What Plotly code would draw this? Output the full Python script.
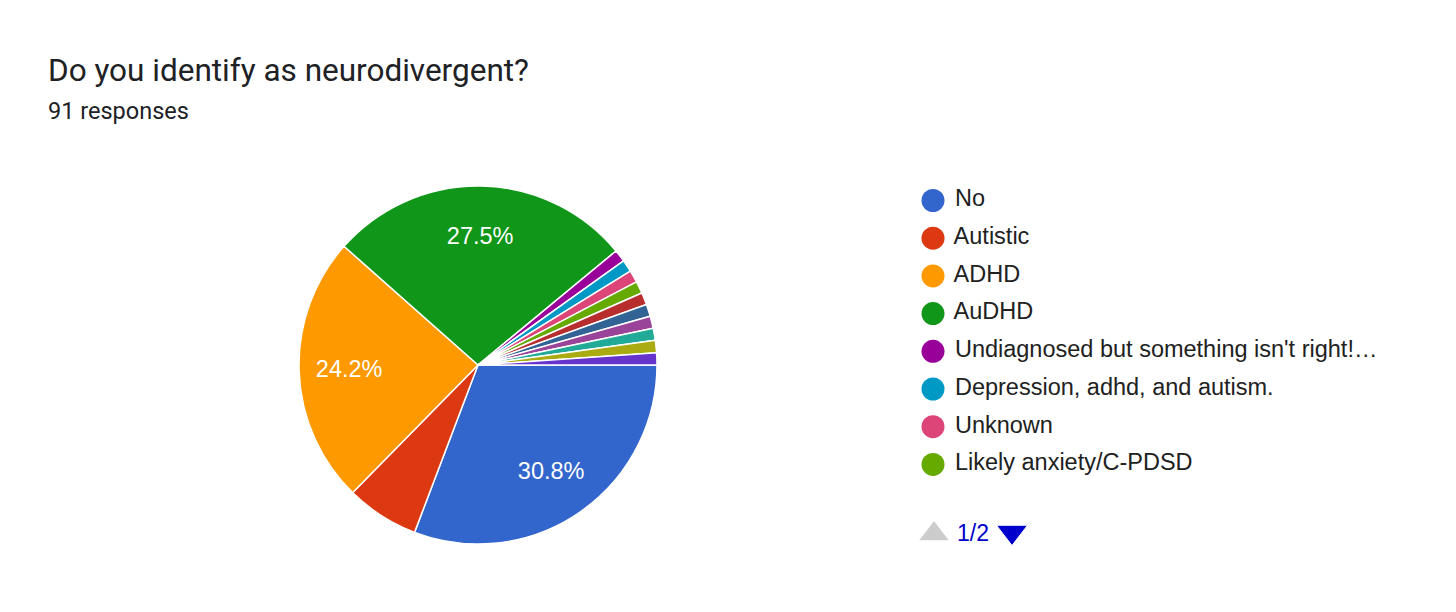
import plotly.graph_objects as go

# answers (91 responses)
labels = ["No", "Autistic", "ADHD", "AuDHD",
          "Undiagnosed but something isn't right!…",
          "Depression, adhd, and autism.", "Unknown", "Likely anxiety/C-PDSD",
          "Other 1", "Other 2", "Other 3", "Other 4", "Other 5", "Other 6"]
counts = [28, 6, 22, 25, 1, 1, 1, 1, 1, 1, 1, 1, 1, 1]
colors = ["#3366cc", "#dc3912", "#ff9900", "#109618", "#990099", "#0099c6",
          "#dd4477", "#66aa00", "#b82e2e", "#316395", "#994499", "#22aa99",
          "#aaaa11", "#6633cc"]
legend_page = 8  # legend shows 8 items per page

total = sum(counts)
slice_text = [f"{c / total * 100:.1f}%" if c / total > 0.1 else "" for c in counts]

W, H = 1456, 612
cx, cy, r = 478, 365, 179
pie_domain = dict(x=[(cx - r) / W, (cx + r) / W], y=[1 - (cy + r) / H, 1 - (cy - r) / H])

fig = go.Figure()
fig.add_trace(go.Pie(
    labels=labels, values=counts, marker=dict(colors=colors, line=dict(color="white", width=1.5)),
    sort=False, direction="clockwise", rotation=90, textinfo="none",
    domain=pie_domain, showlegend=False, hoverinfo="label+value+percent",
))
# transparent ring on top, only used to push the % labels outwards
fig.add_trace(go.Pie(
    labels=labels, values=counts, hole=0.44,
    marker=dict(colors=["rgba(0,0,0,0)"] * len(counts), line=dict(width=0)),
    sort=False, direction="clockwise", rotation=90,
    text=slice_text, textinfo="text", textposition="inside", insidetextorientation="horizontal",
    textfont=dict(family="Liberation Sans, Arial", size=23.5, color="white"),
    domain=pie_domain, showlegend=False, hoverinfo="skip",
))

# custom legend (first page)
ly0, lstep = 200.5, 37.7
fig.add_trace(go.Scatter(
    x=[933] * legend_page, y=[ly0 + i * lstep for i in range(legend_page)],
    mode="markers+text", marker=dict(size=23, color=colors[:legend_page], opacity=1),
    text=[" " + l for l in labels[:legend_page]], textposition="middle right",
    textfont=dict(family="Liberation Sans, Arial", size=23.5, color="#212121"),
    xaxis="x2", yaxis="y2", showlegend=False, hoverinfo="skip", cliponaxis=False,
))
# pager
fig.add_trace(go.Scatter(
    x=[934, 1012], y=[534, 532], mode="markers",
    marker=dict(symbol=["triangle-up", "triangle-down"], size=[27, 27],
                color=["#cccccc", "#0000cc"], opacity=1),
    xaxis="x2", yaxis="y2", showlegend=False, hoverinfo="skip", cliponaxis=False,
))

fig.update_layout(
    width=W, height=H, margin=dict(l=0, r=0, t=0, b=0),
    paper_bgcolor="white", plot_bgcolor="rgba(0,0,0,0)",
    xaxis2=dict(domain=[0, 1], range=[0, W], visible=False, fixedrange=True),
    yaxis2=dict(domain=[0, 1], range=[H, 0], visible=False, fixedrange=True, anchor="x2"),
    annotations=[
        dict(text="Do you identify as neurodivergent?", x=46 / W, y=1 - 70 / H, xref="paper", yref="paper",
             xanchor="left", yanchor="middle", showarrow=False,
             font=dict(family="Roboto", size=31.5, color="#202124")),
        dict(text="91 responses", x=46 / W, y=1 - 111 / H, xref="paper", yref="paper",
             xanchor="left", yanchor="middle", showarrow=False,
             font=dict(family="Roboto", size=23.5, color="#202124")),
        dict(text="1/2", x=955 / W, y=1 - 533 / H, xref="paper", yref="paper",
             xanchor="left", yanchor="middle", showarrow=False,
             font=dict(family="Liberation Sans, Arial", size=23, color="#0000cc")),
    ],
)

fig.write_html("out.html", config={"displayModeBar": False},
               post_script="document.body.style.margin='0';")
